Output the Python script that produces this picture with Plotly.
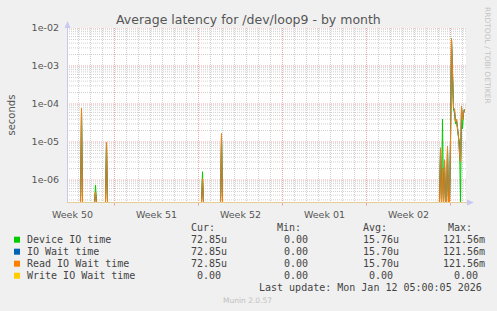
import math
from datetime import datetime, timedelta
import plotly.graph_objects as go

# ---------------- data ----------------
# shared timestamps (2-hour steps of the monthly RRA); 0 = no latency
times = [
    "2025-12-10 00:00",
    "2025-12-11 04:00", "2025-12-11 06:00", "2025-12-11 08:00",
    "2025-12-12 08:00", "2025-12-12 10:00", "2025-12-12 12:00",
    "2025-12-13 06:00", "2025-12-13 08:00", "2025-12-13 10:00",
    "2025-12-21 06:00", "2025-12-21 08:00", "2025-12-21 10:00",
    "2025-12-22 20:00", "2025-12-22 22:00", "2025-12-23 00:00",
    "2026-01-09 22:00", "2026-01-10 00:00", "2026-01-10 02:00", "2026-01-10 04:00",
    "2026-01-10 06:00", "2026-01-10 08:00", "2026-01-10 10:00", "2026-01-10 12:00",
    "2026-01-10 14:00", "2026-01-10 16:00", "2026-01-10 18:00", "2026-01-10 20:00",
    "2026-01-10 22:00", "2026-01-11 00:00", "2026-01-11 02:00", "2026-01-11 04:00",
    "2026-01-11 06:00", "2026-01-11 08:00", "2026-01-11 10:00", "2026-01-11 12:00",
    "2026-01-11 14:00", "2026-01-11 16:00", "2026-01-11 18:00", "2026-01-11 20:00",
    "2026-01-11 22:00", "2026-01-12 00:00", "2026-01-12 02:00", "2026-01-12 04:00",
]
device_io = [
    0,
    0, 6.5e-5, 0,
    0, 7.4e-7, 0,
    0, 9e-6, 0,
    0, 1.65e-6, 0,
    0, 1.4e-5, 0,
    0, 0, 0, 5e-6,
    0, 4e-5, 0, 3e-6,
    0, 0, 6e-6, 0,
    0, 9e-6, 5.3e-3, 6e-4,
    7e-5, 6e-5, 3e-5, 3.6e-5,
    2e-5, 1.3e-5, 1e-5, 0,
    8e-5, 2.2e-5, 5.5e-5, 7.285e-5,
]
io_wait = [
    0,
    0, 7.8e-5, 0,
    0, 4.9e-7, 0,
    0, 1e-5, 0,
    0, 1.1e-6, 0,
    0, 1.65e-5, 0,
    0, 0, 0, 7e-6,
    0, 2e-6, 0, 3.4e-6,
    0, 0, 7.5e-6, 0,
    0, 1e-5, 5.1e-3, 7e-4,
    8e-5, 7e-5, 3.4e-5, 4e-5,
    2.3e-5, 1.4e-5, 5e-6, 3e-6,
    8.5e-5, 3.8e-5, 5.7e-5, 7.285e-5,
]
read_wait = list(io_wait)
write_times = ["2025-12-10 00:00", "2026-01-12 04:00"]
write_wait = [0, 0]

week_labels = ["Week 50", "Week 51", "Week 52", "Week 01", "Week 02"]
week_label_pos = ["2025-12-10 12:00", "2025-12-17 12:00", "2025-12-24 12:00",
                  "2025-12-31 12:00", "2026-01-07 12:00"]
week_starts = ["2025-12-14", "2025-12-21", "2025-12-28", "2026-01-04", "2026-01-11"]
y_ticks = [1e-6, 1e-5, 1e-4, 1e-3, 1e-2]
y_ticktext = ["1e-06", "1e-05", "1e-04", "1e-03", "1e-02"]

legend_names = ["Device IO time", "IO Wait time", "Read IO Wait time", "Write IO Wait time"]
legend_colors = ["#00cc00", "#0066b3", "#ff8000", "#ffcc00"]
cur_vals = ["72.85u", "72.85u", "72.85u", "0.00"]
min_vals = ["0.00", "0.00", "0.00", "0.00"]
avg_vals = ["15.76u", "15.70u", "15.70u", "0.00"]
max_vals = ["121.56m", "121.56m", "121.56m", "0.00"]

# ---------------- layout geometry ----------------
W, H = 497, 311
L, R, T, B = 67, 31, 28, 108
PW, PH = W - L - R, H - T - B
YLOG = [-6.605, -2.0]
X0, X1 = "2025-12-10 01:00", "2026-01-12 07:00"
FLOOR = 10 ** YLOG[0]


def px(x):
    return (x - L) / PW


def py(y):
    return 1 - (y - T) / PH


def floor(vals):
    return [max(v, FLOOR) for v in vals]


fig = go.Figure()
series = [
    (times, device_io, legend_colors[0]),
    (times, io_wait, legend_colors[1]),
    (times, read_wait, legend_colors[2]),
    (write_times, write_wait, legend_colors[3]),
]
for (tx, vy, col), name in zip(series, legend_names):
    fig.add_trace(go.Scatter(x=tx, y=floor(vy), mode="lines", name=name,
                             line=dict(color=col, width=1), showlegend=False,
                             hoverinfo="skip"))

shapes = []
# horizontal grid
for n in range(-7, -1):
    for k in range(1, 10):
        v = k * 10 ** n
        lv = math.log10(v)
        if lv < YLOG[0] or lv > YLOG[1] + 1e-9:
            continue
        major = k == 1
        shapes.append(dict(type="line", xref="paper", yref="y", x0=0, x1=1, y0=v, y1=v,
                           layer="below",
                           line=dict(color="#e8a8a8" if major else "#d0d0d0", width=1,
                                     dash="1px,1px")))
# vertical grid (daily minor, weekly major)
d = datetime(2025, 12, 11)
while d < datetime(2026, 1, 12, 6):
    ds = d.strftime("%Y-%m-%d")
    major = ds in week_starts
    shapes.append(dict(type="line", xref="x", yref="paper", x0=ds, x1=ds, y0=0, y1=1,
                       layer="below",
                       line=dict(color="#e8a8a8" if major else "#d0d0d0", width=1,
                                 dash="1px,1px")))
    if major:
        shapes.append(dict(type="line", xref="x", yref="paper", x0=ds, x1=ds,
                           y0=0, y1=-0.015, line=dict(color="#e8a8a8", width=1)))
    d += timedelta(days=1)
# axes lines and arrows
shapes.append(dict(type="line", xref="paper", yref="paper", x0=px(67.5), x1=px(67.5),
                   y0=0, y1=1.02, line=dict(color="#c8c8e8", width=1)))
shapes.append(dict(type="path", xref="paper", yref="paper",
                   path=f"M {px(64.5)} {py(28)} L {px(70.5)} {py(28)} L {px(67.5)} {py(21)} Z",
                   fillcolor="#c8c8f0", line=dict(width=0)))
shapes.append(dict(type="line", xref="paper", yref="paper", x0=0, x1=px(468), y0=py(202.5),
                   y1=py(202.5), line=dict(color="#e6cc90", width=1)))
shapes.append(dict(type="path", xref="paper", yref="paper",
                   path=f"M {px(467)} {py(199.5)} L {px(467)} {py(205.5)} L {px(474)} {py(202.5)} Z",
                   fillcolor="#c8c8f0", line=dict(width=0)))

ann = []
mono = "DejaVu Sans Mono"
txt = "#444444"


def add_text(x, y, s, anchor="left", size=10, family=mono, color=txt, angle=0):
    ann.append(dict(x=px(x), y=py(y), xref="paper", yref="paper", text=s, showarrow=False,
                    xanchor=anchor, yanchor="middle", textangle=angle, borderpad=0,
                    font=dict(family=family, size=size, color=color)))


add_text(248, 19, "Average latency for /dev/loop9 - by month", anchor="center", size=12.5,
         family="DejaVu Sans", color="#555555")
add_text(11, 115.5, "seconds", anchor="center", size=10, family="DejaVu Sans",
         color="#555555", angle=-90)
add_text(487, 55, "RRDTOOL / TOBI OETIKER", anchor="center", size=7.5, family="DejaVu Sans",
         color="#c4c4c4", angle=90)

add_text(190, 227.5, "Cur:")
add_text(276, 227.5, "Min:")
add_text(361.7, 227.5, "Avg:")
add_text(446.7, 227.5, "Max:")
for i, name in enumerate(legend_names):
    yy = 239.7 + 12 * i
    shapes.append(dict(type="rect", xref="paper", yref="paper", x0=px(14), x1=px(20),
                       y0=py(yy + 3), y1=py(yy - 3), fillcolor=legend_colors[i],
                       line=dict(width=0)))
    add_text(26, yy, name)
    for col_x, vals in ((190, cur_vals), (276.7, min_vals), (361.7, avg_vals), (441.7, max_vals)):
        s = vals[i]
        off = 0
        if s == "0.00":
            off = {190: 6, 276.7: 6, 361.7: 6, 441.7: 11.6}[col_x]
        add_text(col_x + off, yy, s)
add_text(483, 287.7, "Last update: Mon Jan 12 05:00:05 2026", anchor="right")
add_text(247.5, 300, "Munin 2.0.57", anchor="center", size=7.5, family="DejaVu Sans",
         color="#c0c0c0")

fig.update_layout(
    width=W, height=H,
    margin=dict(l=L, r=R, t=T, b=B, pad=0),
    paper_bgcolor="#f0f0f0", plot_bgcolor="#ffffff",
    shapes=shapes, annotations=ann,
    xaxis=dict(type="date", range=[X0, X1], tickvals=week_label_pos, ticktext=week_labels,
               showgrid=False, zeroline=False, showline=False, ticks="",
               ticklabelstandoff=4,
               tickfont=dict(family="DejaVu Sans", size=9.5, color="#555555")),
    yaxis=dict(type="log", range=YLOG, tickvals=y_ticks, ticktext=y_ticktext,
               showgrid=False, zeroline=False, showline=False, ticks="",
               ticklabelstandoff=7,
               tickfont=dict(family="DejaVu Sans", size=9.5, color="#555555")),
)
fig.write_html("out.html")
